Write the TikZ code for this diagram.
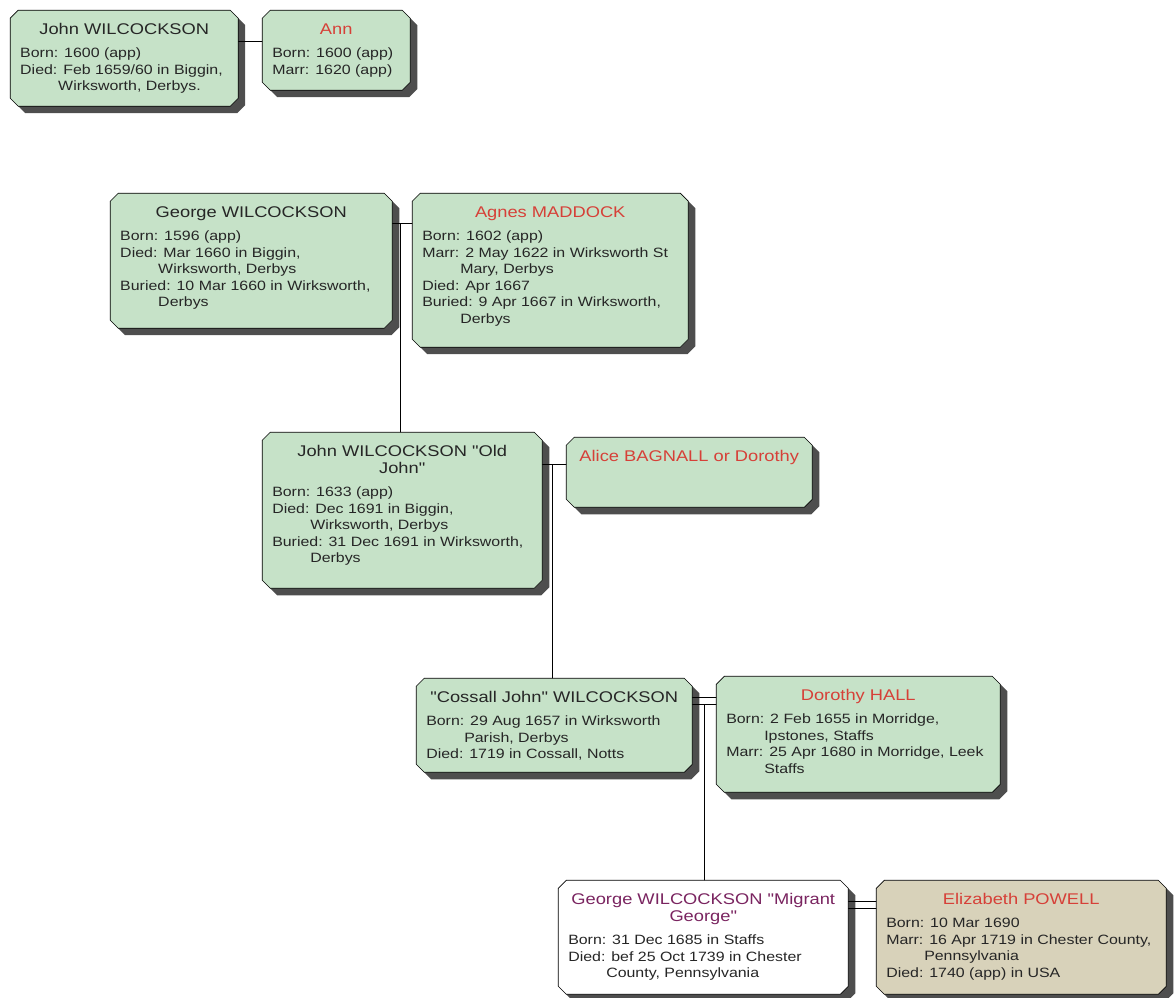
\documentclass[tikz,border=0pt]{standalone}
\usepackage{fontspec}
\setmainfont{Liberation Sans}
\newfontfamily\cardfont{Liberation Sans}[FakeStretch=1.18]
\usetikzlibrary{shapes.misc,shadows}
\definecolor{cardgreen}{RGB}{198,226,200}
\definecolor{cardtan}{RGB}{216,210,186}
\definecolor{namered}{RGB}{214,64,56}
\definecolor{namepurple}{RGB}{122,36,96}
\definecolor{shadowgrey}{RGB}{78,78,78}
\newcommand{\ind}{\hspace*{38pt}}
\newcommand{\nm}[2][black!85]{{\centering\color{#1}\fontsize{15.5}{17}\selectfont\rule{0pt}{16pt}#2\par}\vspace{7pt}}
\newcommand{\cardtext}[3]{\parbox[t][#2][t]{#1}{\cardfont\fontsize{13.5}{16.5}\selectfont\color{black!85}#3}}
\begin{document}
\begin{tikzpicture}[x=1pt,y=-1pt,line cap=round,
  card/.style={chamfered rectangle,chamfered rectangle xsep=4pt,chamfered rectangle ysep=4pt,
    anchor=north west,inner xsep=6pt,inner ysep=4pt,draw=black,line width=0.7pt,fill=cardgreen,
    drop shadow={shadow xshift=7pt,shadow yshift=-7pt,fill=shadowgrey,opacity=1}},
  link/.style={draw=black,line width=0.9pt}]
\useasboundingbox (0,0) rectangle (1176,998);
% generation 1
\node[card] (john) at (14,14) {\cardtext{208pt}{80pt}{\nm{John WILCOCKSON}
  Born: 1600 (app)\\Died: Feb 1659/60 in Biggin,\\\ind Wirksworth, Derbys.}};
\node[card] (ann) at (266,14) {\cardtext{128pt}{64pt}{\nm[namered]{Ann}
  Born: 1600 (app)\\Marr: 1620 (app)}};
% generation 2
\node[card] (george) at (114,197) {\cardtext{262pt}{119pt}{\nm{George WILCOCKSON}
  Born: 1596 (app)\\Died: Mar 1660 in Biggin,\\\ind Wirksworth, Derbys\\
  Buried: 10 Mar 1660 in Wirksworth,\\\ind Derbys}};
\node[card] (agnes) at (416,197) {\cardtext{256pt}{138pt}{\nm[namered]{Agnes MADDOCK}
  Born: 1602 (app)\\Marr: 2 May 1622 in Wirksworth St\\\ind Mary, Derbys\\Died: Apr 1667\\
  Buried: 9 Apr 1667 in Wirksworth,\\\ind Derbys}};
% generation 3
\node[card] (oldjohn) at (266,436) {\cardtext{260pt}{140pt}{\nm{John WILCOCKSON "Old\\John"}
  Born: 1633 (app)\\Died: Dec 1691 in Biggin,\\\ind Wirksworth, Derbys\\
  Buried: 31 Dec 1691 in Wirksworth,\\\ind Derbys}};
\node[card] (alice) at (570,441) {\cardtext{226pt}{54pt}{\nm[namered]{Alice BAGNALL or Dorothy}}};
% generation 4
\node[card] (cossall) at (420,682) {\cardtext{256pt}{78pt}{\nm{"Cossall John" WILCOCKSON}
  Born: 29 Aug 1657 in Wirksworth\\\ind Parish, Derbys\\Died: 1719 in Cossall, Notts}};
\node[card] (dorothy) at (720,680) {\cardtext{264pt}{100pt}{\nm[namered]{Dorothy HALL}
  Born: 2 Feb 1655 in Morridge,\\\ind Ipstones, Staffs\\Marr: 25 Apr 1680 in Morridge, Leek\\\ind Staffs}};
% generation 5
\node[card,fill=white] (migrant) at (562,884) {\cardtext{270pt}{98pt}{\nm[namepurple]{George WILCOCKSON "Migrant\\George"}
  Born: 31 Dec 1685 in Staffs\\Died: bef 25 Oct 1739 in Chester\\\ind County, Pennsylvania}};
\node[card,fill=cardtan] (elizabeth) at (880,884) {\cardtext{270pt}{98pt}{\nm[namered]{Elizabeth POWELL}
  Born: 10 Mar 1690\\Marr: 16 Apr 1719 in Chester County,\\\ind Pennsylvania\\Died: 1740 (app) in USA}};
% marriage and descent lines
\path ([yshift=-32pt]john.north) coordinate (m1);
\draw[link] (m1 -| john.east) -- (m1 -| ann.west);
\path ([yshift=-31pt]george.north) coordinate (m2);
\draw[link] (m2 -| george.east) -- (m2 -| agnes.west);
\path ([xshift=8pt]george.east |- m2) coordinate (d2);
\draw[link] (d2) -- (d2 |- oldjohn.north);
\path ([yshift=-33pt]oldjohn.north) coordinate (m3);
\draw[link] (m3 -| oldjohn.east) -- (m3 -| alice.west);
\path ([xshift=10pt]oldjohn.east |- m3) coordinate (d3);
\draw[link] (d3) -- (d3 |- cossall.north);
\path ([yshift=-20pt]cossall.north) coordinate (m4);
\draw[link] (m4 -| cossall.east) -- (m4 -| dorothy.west);
\draw[link] ([yshift=-7pt]m4 -| cossall.east) -- ([yshift=-7pt]m4 -| dorothy.west);
\path ([xshift=12pt,yshift=-7pt]cossall.east |- m4) coordinate (d4);
\draw[link] (d4) -- (d4 |- migrant.north);
\path ([yshift=-22pt]migrant.north) coordinate (m5);
\draw[link] (m5 -| migrant.east) -- (m5 -| elizabeth.west);
\draw[link] ([yshift=-7pt]m5 -| migrant.east) -- ([yshift=-7pt]m5 -| elizabeth.west);
\end{tikzpicture}
\end{document}
